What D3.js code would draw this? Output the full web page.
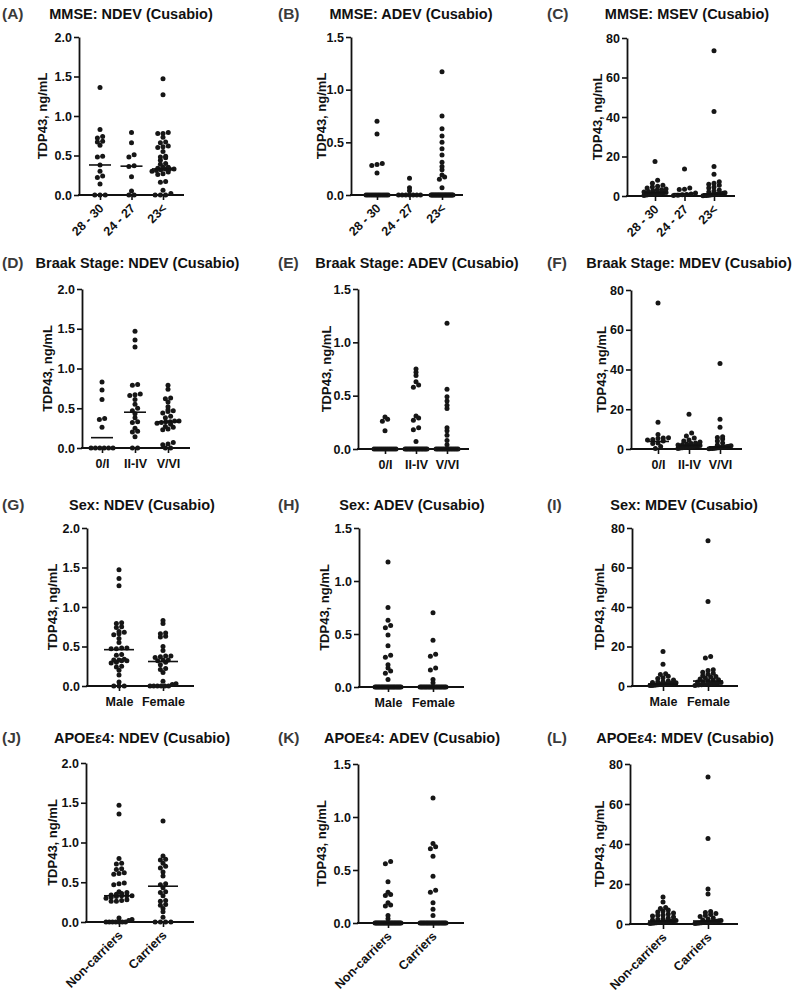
<!DOCTYPE html>
<html><head><meta charset="utf-8">
<script src="https://cdn.jsdelivr.net/npm/d3@7"></script>
<style>
body{margin:0;background:#fff;}
svg text{font-family:"Liberation Sans",Arial,sans-serif;font-weight:bold;fill:#111;}
</style></head>
<body>
<script>
// ---------- categories ----------
const mmseGroups = ["28 - 30", "24 - 27", "23<"];
const braakGroups = ["0/I", "II-IV", "V/VI"];
const sexGroups = ["Male", "Female"];
const apoeGroups = ["Non-carriers", "Carriers"];

// ---------- tick labels ----------
const ticksNDEV = [0, 0.5, 1.0, 1.5, 2.0];
const ticksADEV = [0, 0.5, 1.0, 1.5];
const ticksMDEV = [0, 20, 40, 60, 80];

// ---------- titles ----------
const panelLetters = ["(A)","(B)","(C)","(D)","(E)","(F)","(G)","(H)","(I)","(J)","(K)","(L)"];
const panelTitles = ["MMSE: NDEV (Cusabio)","MMSE: ADEV (Cusabio)","MMSE: MSEV (Cusabio)",
  "Braak Stage: NDEV (Cusabio)","Braak Stage: ADEV (Cusabio)","Braak Stage: MDEV (Cusabio)",
  "Sex: NDEV (Cusabio)","Sex: ADEV (Cusabio)","Sex: MDEV (Cusabio)",
  "APOE\u03b54: NDEV (Cusabio)","APOE\u03b54: ADEV (Cusabio)","APOE\u03b54: MDEV (Cusabio)"];

// ---------- values (TDP43, ng/mL) ----------
const mmseNDEV = [
  [1.36,0.83,0.74,0.72,0.68,0.67,0.63,0.49,0.48,0.38,0.30,0.24,0.22,0.14,0,0,0],
  [0.79,0.66,0.51,0.48,0.37,0.36,0.23,0.05,0,0],
  [1.47,1.27,0.79,0.78,0.78,0.73,0.67,0.66,0.62,0.61,0.60,0.55,0.49,0.48,0.47,0.44,0.40,0.39,0.35,0.35,0.34,0.33,0.33,0.33,0.32,0.31,0.30,0.29,0.27,0.26,0.17,0.16,0.06,0.02,0,0,0]
];
const mmseADEV = [
  [0.70,0.58,0.30,0.29,0.28,0.21,0,0,0,0,0,0,0,0,0,0,0,0,0],
  [0.16,0.07,0.04,0,0,0,0,0,0,0],
  [1.17,0.75,0.63,0.56,0.50,0.44,0.38,0.31,0.27,0.24,0.19,0.17,0.15,0.07,0,0,0,0,0,0,0,0,0,0,0,0,0,0,0,0,0,0,0,0,0,0,0,0]
];
const mmseMDEV = [
  [17.5,8.0,6.5,5.5,5.0,4.5,4.0,3.5,3.2,3.0,2.6,2.3,2.0,1.8,1.6,1.4,1.2,1.0,0.9,0.7,0.5,0.3],
  [13.7,4.0,3.4,3.3,1.5,1.0,0.8,0.6,0.4,0.2],
  [73.5,42.8,15.0,11.0,7.2,6.5,6.0,5.5,4.5,4.0,3.0,2.5,2.0,1.6,1.4,1.2,1.0,0.9,0.8,0.7,0.6,0.5,0.4,0.3,0.2,0.1]
];
const braakNDEV = [
  [0.83,0.73,0.61,0.37,0.36,0.26,0,0,0,0,0,0],
  [1.47,1.36,1.27,0.80,0.79,0.68,0.67,0.66,0.61,0.55,0.50,0.47,0.43,0.38,0.33,0.32,0.25,0.21,0.20,0.14,0,0],
  [0.79,0.74,0.63,0.62,0.58,0.52,0.48,0.47,0.46,0.44,0.40,0.38,0.34,0.34,0.33,0.33,0.32,0.31,0.30,0.27,0.26,0.24,0.23,0.07,0.05,0.04,0,0]
];
const braakADEV = [
  [0.30,0.28,0.26,0.17,0,0,0,0,0,0,0,0,0,0,0,0],
  [0.75,0.72,0.69,0.63,0.60,0.58,0.31,0.29,0.27,0.20,0.18,0.07,0,0,0,0,0,0,0,0,0,0,0,0,0,0,0,0],
  [1.18,0.56,0.49,0.45,0.41,0.38,0.20,0.17,0.13,0.08,0.04,0,0,0,0,0,0,0,0,0,0,0,0,0,0]
];
const braakMDEV = [
  [73.5,13.5,7.3,5.7,5.5,5.3,4.8,4.5,4.0,3.0,2.8,1.2,0.3],
  [17.5,8.0,6.5,5.5,4.5,4.0,3.5,3.0,2.8,2.5,2.2,2.0,1.8,1.6,1.5,1.3,1.2,1.0,0.9,0.8,0.6,0.5,0.3],
  [43.0,15.0,11.0,6.2,5.8,5.0,4.0,3.0,2.0,1.6,1.4,1.2,1.0,0.9,0.8,0.7,0.6,0.5,0.4,0.3,0.2,0.1]
];
const sexNDEV = [
  [1.47,1.36,1.27,0.80,0.79,0.75,0.74,0.69,0.68,0.66,0.65,0.60,0.55,0.48,0.48,0.47,0.47,0.40,0.39,0.34,0.33,0.33,0.32,0.32,0.30,0.29,0.25,0.24,0.20,0.14,0.05,0,0,0],
  [0.83,0.79,0.67,0.66,0.63,0.62,0.50,0.45,0.38,0.38,0.37,0.36,0.33,0.33,0.32,0.30,0.27,0.22,0.21,0.17,0.06,0.03,0.02,0,0,0,0,0,0]
];
const sexADEV = [
  [1.18,0.75,0.63,0.58,0.56,0.49,0.39,0.30,0.28,0.21,0.18,0.15,0.13,0.07,0,0,0,0,0,0,0,0,0,0,0,0,0,0,0,0,0,0,0,0,0,0],
  [0.70,0.44,0.31,0.29,0.18,0.16,0.07,0.04,0,0,0,0,0,0,0,0,0,0,0,0,0,0,0,0,0,0,0,0]
];
const sexMDEV = [
  [17.5,11.0,6.2,5.8,5.0,4.2,3.8,3.0,2.5,2.2,2.0,1.8,1.6,1.5,1.4,1.2,1.1,1.0,0.9,0.8,0.7,0.6,0.5,0.4,0.3,0.2],
  [73.5,42.8,15.0,14.2,8.2,7.8,7.0,6.5,6.0,5.2,4.8,4.5,4.0,3.6,3.2,3.0,2.6,2.2,2.0,1.8,1.5,1.3,1.1,1.0,0.8,0.6,0.5,0.3]
];
const apoeNDEV = [
  [1.47,1.36,0.80,0.74,0.73,0.67,0.66,0.62,0.61,0.60,0.49,0.48,0.47,0.38,0.37,0.36,0.35,0.34,0.33,0.33,0.33,0.32,0.31,0.30,0.28,0.27,0.26,0.26,0.05,0.03,0.02,0,0,0,0,0,0,0],
  [1.27,0.83,0.79,0.78,0.74,0.70,0.68,0.63,0.58,0.48,0.47,0.43,0.38,0.37,0.33,0.27,0.26,0.22,0.21,0.17,0.13,0.06,0,0,0,0]
];
const apoeADEV = [
  [0.58,0.56,0.39,0.29,0.27,0.26,0.19,0.17,0.16,0.07,0.04,0,0,0,0,0,0,0,0,0,0,0,0,0,0,0,0,0,0,0,0,0,0,0,0,0,0],
  [1.18,0.75,0.72,0.70,0.63,0.44,0.31,0.29,0.19,0.13,0.07,0,0,0,0,0,0,0,0,0,0,0,0,0,0,0,0,0,0,0,0,0,0]
];
const apoeMDEV = [
  [13.5,11.0,8.2,7.8,7.0,6.5,6.0,5.5,5.0,4.5,4.2,4.0,3.5,3.0,2.5,2.2,2.0,1.8,1.6,1.5,1.3,1.2,1.0,0.9,0.8,0.7,0.6,0.5,0.4,0.3],
  [73.5,42.8,17.5,15.0,6.2,5.8,5.2,4.8,4.2,3.8,3.0,2.5,2.0,1.8,1.6,1.4,1.2,1.1,1.0,0.9,0.8,0.7,0.6,0.5,0.4,0.3]
];

// ---------- medians ----------
const mmseNDEVMed = [0.38, 0.365, 0.33];
const mmseADEVMed = [0, 0, 0];
const mmseMDEVMed = [1.7, 1.2, 1.0];
const braakNDEVMed = [0.13, 0.45, 0.33];
const braakADEVMed = [0, 0, 0];
const braakMDEVMed = [3.8, 1.8, 1.0];
const sexNDEVMed = [0.46, 0.31];
const sexADEVMed = [0, 0];
const sexMDEVMed = [1.0, 2.5];
const apoeNDEVMed = [0.33, 0.45];
const apoeADEVMed = [0, 0];
const apoeMDEVMed = [1.5, 1.5];

// ---------- layout (positions only) ----------
const layout = [
  {ox:79, xEnd:184, yTop:37, yBot:195, c0:100, c1:163, lx:42.5, letterX:2, titleX:131, titleY:19},
  {ox:351, xEnd:463, yTop:37, yBot:195, c0:377, c1:442, lx:321, letterX:278, titleX:411, titleY:19},
  {ox:627, xEnd:735, yTop:38, yBot:196, c0:655, c1:714, lx:597, letterX:547, titleX:687, titleY:19},
  {ox:82, xEnd:190, yTop:289, yBot:448, c0:102, c1:168, lx:47.5, letterX:2, titleX:137.5, titleY:268},
  {ox:358, xEnd:469, yTop:289, yBot:449, c0:385, c1:447, lx:326, letterX:278, titleX:417, titleY:268},
  {ox:631, xEnd:742, yTop:290, yBot:449, c0:658, c1:720, lx:601, letterX:547, titleX:689, titleY:268},
  {ox:87, xEnd:194, yTop:528, yBot:686, c0:119, c1:163, lx:52.5, letterX:2, titleX:142, titleY:510},
  {ox:359, xEnd:464, yTop:528, yBot:687, c0:388, c1:433, lx:324, letterX:278, titleX:412, titleY:510},
  {ox:632, xEnd:738, yTop:528, yBot:686, c0:663, c1:708, lx:599, letterX:547, titleX:684, titleY:510},
  {ox:86, xEnd:194, yTop:763, yBot:922, c0:119, c1:163, lx:52.5, letterX:2, titleX:142, titleY:743},
  {ox:358, xEnd:464, yTop:764, yBot:923, c0:388, c1:433, lx:321, letterX:278, titleX:412, titleY:743},
  {ox:630, xEnd:738, yTop:764, yBot:924, c0:663, c1:708, lx:599, letterX:547, titleX:685, titleY:743}
];

const panelData = [
  [mmseGroups, mmseNDEV, mmseNDEVMed, ticksNDEV, true],
  [mmseGroups, mmseADEV, mmseADEVMed, ticksADEV, true],
  [mmseGroups, mmseMDEV, mmseMDEVMed, ticksMDEV, true],
  [braakGroups, braakNDEV, braakNDEVMed, ticksNDEV, false],
  [braakGroups, braakADEV, braakADEVMed, ticksADEV, false],
  [braakGroups, braakMDEV, braakMDEVMed, ticksMDEV, false],
  [sexGroups, sexNDEV, sexNDEVMed, ticksNDEV, false],
  [sexGroups, sexADEV, sexADEVMed, ticksADEV, false],
  [sexGroups, sexMDEV, sexMDEVMed, ticksMDEV, false],
  [apoeGroups, apoeNDEV, apoeNDEVMed, ticksNDEV, true],
  [apoeGroups, apoeADEV, apoeADEVMed, ticksADEV, true],
  [apoeGroups, apoeMDEV, apoeMDEVMed, ticksMDEV, true]
];

const R = 2.5, D = 2 * R;

function swarm(vals, y, maxHalf) {
  const pts = vals.map(v => ({v, py: y(v)})).sort((a, b) => b.py - a.py);
  const bins = [];
  pts.forEach(p => {
    const last = bins[bins.length - 1];
    if (last && Math.abs(p.py - last[0].py) <= D * 0.6) last.push(p);
    else bins.push([p]);
  });
  bins.forEach(b => {
    const k = b.length;
    const sp = k > 1 ? Math.min(D * 1.05, 2 * maxHalf / (k - 1)) : 0;
    b.forEach((p, i) => { p.dx = (i - (k - 1) / 2) * sp; });
  });
  return pts;
}

const svg = d3.select("body").append("svg").attr("width", 800).attr("height", 994);

panelData.forEach(([groups, values, meds, ticks, rotated], i) => {
  const L = layout[i];
  const g = svg.append("g");
  const ymax = ticks[ticks.length - 1];
  const y = d3.scaleLinear().domain([0, ymax]).range([L.yBot, L.yTop]);
  const x = d3.scalePoint().domain(groups).range([L.c0, L.c1]);
  const fmt = ymax >= 10 ? d3.format("d") : d3.format(".1f");
  const three = groups.length === 3;
  const maxHalf = three ? 11 : 13;
  const medHalf = three ? 11 : 15;

  // titles
  g.append("text").attr("x", L.letterX).attr("y", L.titleY).attr("font-size", 15.5).style("fill", "#3a3a3a").text(panelLetters[i]);
  g.append("text").attr("x", L.titleX).attr("y", L.titleY).attr("text-anchor", "middle").attr("font-size", 14.5).text(panelTitles[i]);

  // y axis
  const ya = g.append("g").attr("transform", `translate(${L.ox},0)`)
    .call(d3.axisLeft(y).tickValues(ticks).tickFormat(fmt).tickSize(5).tickSizeOuter(0));
  ya.select(".domain").attr("stroke", "#111").attr("stroke-width", 1.8);
  ya.selectAll(".tick line").attr("stroke", "#111").attr("stroke-width", 1.6);
  ya.selectAll(".tick text").attr("font-size", 12.5).attr("font-family", null).attr("x", -7).style("fill", "#111");

  // x axis
  const xa = g.append("g").attr("transform", `translate(0,${y(0)})`)
    .call(d3.axisBottom(x).tickSize(5).tickSizeOuter(0));
  xa.select(".domain").remove();
  xa.append("line").attr("x1", L.ox - 1).attr("x2", L.xEnd).attr("stroke", "#111").attr("stroke-width", 1.8);
  xa.selectAll(".tick line").attr("stroke", "#111").attr("stroke-width", 1.6);
  const xt = xa.selectAll(".tick text").attr("font-size", 12.5).attr("font-family", null).style("fill", "#111");
  if (rotated) {
    xt.attr("text-anchor", "end").attr("dy", null).attr("y", null)
      .attr("transform", "translate(4,14) rotate(-45)");
  } else {
    xt.attr("y", 11);
  }

  // y label
  g.append("text").attr("transform", `translate(${L.lx + 4.5},${(L.yTop + L.yBot) / 2}) rotate(-90)`)
    .attr("text-anchor", "middle").attr("font-size", 13).text("TDP43, ng/mL");

  // dots
  groups.forEach((grp, gi) => {
    const pts = swarm(values[gi], y, maxHalf);
    g.append("g").selectAll("circle").data(pts).join("circle")
      .attr("cx", d => x(grp) + d.dx).attr("cy", d => d.py).attr("r", R).attr("fill", "#161616");
    g.append("line").attr("x1", x(grp) - medHalf).attr("x2", x(grp) + medHalf)
      .attr("y1", y(meds[gi])).attr("y2", y(meds[gi])).attr("stroke", "#111").attr("stroke-width", 1.6);
  });
});
</script>
</body></html>
